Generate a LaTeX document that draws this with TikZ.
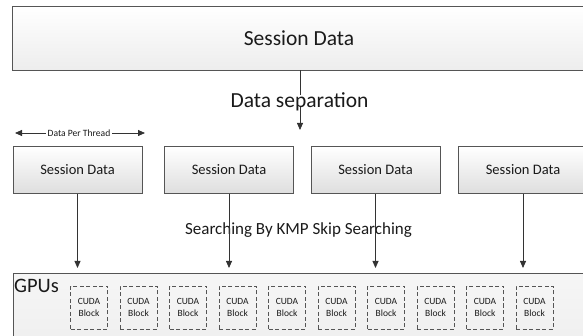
\documentclass[tikz,border=0pt]{standalone}
\usepackage{fontspec}
\setmainfont{Carlito}
\usetikzlibrary{arrows.meta}
\definecolor{boxline}{HTML}{555555}
\definecolor{boxbot}{HTML}{DEDEDE}
\definecolor{conn}{HTML}{333333}
\definecolor{txt}{HTML}{1A1A1A}
\begin{document}
\begin{tikzpicture}[x=1pt,y=-1pt,
  sbox/.style={draw=boxline, line width=0.8pt, top color=white, bottom color=boxbot,
    minimum width=129pt, minimum height=47pt, inner sep=0pt, text=txt,
    font=\fontsize{14.5}{17}\selectfont},
  cuda/.style={draw=boxline, line width=0.7pt, dash pattern=on 4pt off 2.5pt,
    minimum width=37pt, minimum height=43pt, inner sep=0pt, text=txt,
    align=center, font=\fontsize{9.5}{12}\selectfont},
  conn/.style={draw=conn, line width=0.8pt},
  arr/.style={conn, -{Triangle[length=7pt,width=6pt]}},
  lbl/.style={inner sep=0pt, text=txt}
]
\useasboundingbox (0,0) rectangle (583,336);
\clip (0,0) rectangle (583,336);

% top box
\node[sbox, minimum width=574pt, minimum height=64pt, bottom color=gray!14,
  font=\fontsize{21.5}{25}\selectfont] (top) at (299,38) {Session Data};

% data separation
\node[lbl, font=\fontsize{21.5}{25}\selectfont] (sep) at (299.5,102) {Data separation};
\coordinate (septip) at (300,130);
\draw[conn] (top.south -| septip) -- ([yshift=-2pt]sep.north -| septip);
\draw[arr] ([yshift=4pt]sep.south -| septip) -- (septip);

% data per thread
\node[lbl, fill=white, inner xsep=1.5pt, font=\fontsize{9.6}{11}\selectfont] (dpt) at (79,133) {Data Per Thread};
\coordinate (dptl) at (15,133);
\coordinate (dptr) at (145,133);
\draw[arr] (dpt.west) -- (dptl);
\draw[arr] (dpt.east) -- (dptr);

% second row
\node[sbox] (s1) at (77.5,170) {Session Data};
\node[sbox] (s2) at (229,170) {Session Data};
\node[sbox] (s3) at (375.5,170) {Session Data};
\node[sbox] (s4) at (523,170) {Session Data};

% searching label
\node[lbl, font=\fontsize{17}{20}\selectfont] (search) at (298.5,230) {Searching By KMP Skip Searching};

% GPU box
\node[draw=boxline, line width=0.8pt, top color=gray!7, bottom color=gray!13,
  minimum width=580pt, minimum height=75pt, inner sep=0pt, anchor=north west] (gpu) at (13,273) {};
\node[lbl, anchor=base west, font=\fontsize{20.5}{24}\selectfont] (gpus) at (14,293) {GPUs};

\foreach \i in {0,...,9} {
  \node[cuda] (c\i) at ({89+49.5*\i},307.5) {CUDA\\Block};
}

% arrows down to GPU
\coordinate (t1) at (77.5,268);
\coordinate (t2) at (229,268);
\coordinate (t3) at (375.5,268);
\coordinate (t4) at (523,268);
\draw[arr] (s1.south) -- (t1);
\draw[arr] (s2.south) -- (t2);
\draw[arr] (s3.south) -- (t3);
\draw[arr] (s4.south) -- (t4);
\end{tikzpicture}
\end{document}
